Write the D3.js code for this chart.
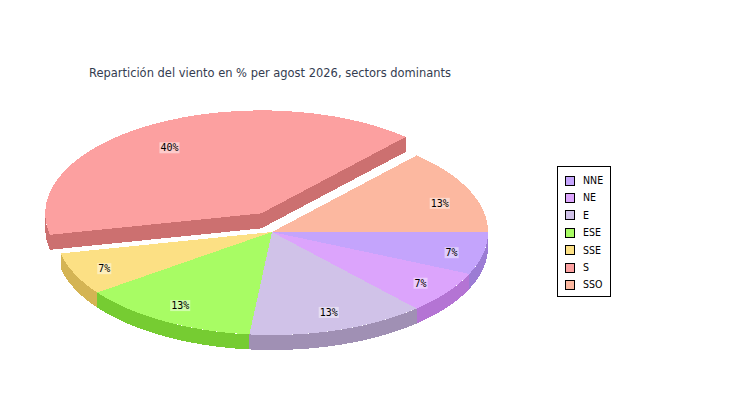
<!DOCTYPE html>
<html>
<head>
<meta charset="utf-8">
<script src="https://cdn.jsdelivr.net/npm/d3@7"></script>
<style>
  html, body { margin: 0; padding: 0; background: #fff; }
  svg { display: block; }
</style>
</head>
<body>
<svg id="chart" width="750" height="400"></svg>
<script>
// ---- data ----
const categories = ["NNE", "NE", "E", "ESE", "SSE", "S", "SSO"];
const values = [1, 1, 2, 2, 1, 6, 2];
const topColors = ["#c4a4fc", "#dca4fc", "#d0c2e8", "#a8fc64", "#fce084", "#fca0a0", "#fcb8a0"];
const sideColors = ["#9c7cd4", "#b474d4", "#a090b4", "#76cc32", "#d4b454", "#cc7070", "#d4907c"];
const explodedCategory = "S";
const title = "Repartición del viento en % per agost 2026, sectors dominants";

// ---- layout ----
const cx = 272, cy = 232, rx = 216, ry = 103, h = 15, explodeR = 21.5;
const svg = d3.select("#chart");

svg.append("text")
  .attr("x", 270).attr("y", 77)
  .attr("text-anchor", "middle")
  .attr("font-family", "DejaVu Sans Condensed, DejaVu Sans, sans-serif")
  .attr("font-size", 12.5)
  .attr("fill", "#343c50")
  .attr("textLength", 362)
  .attr("lengthAdjust", "spacingAndGlyphs")
  .text(title);

const total = d3.sum(values);
const pie = d3.pie().sort(null).startAngle(Math.PI / 2).endAngle(Math.PI / 2 + 2 * Math.PI);
const arcs = pie(values).map((a, i) => {
  const p0 = a.startAngle - Math.PI / 2, p1 = a.endAngle - Math.PI / 2;
  const mid = (p0 + p1) / 2;
  const ex = categories[i] === explodedCategory;
  return {
    a, i, p0, p1, mid, ex,
    dx: ex ? explodeR * Math.cos(mid) : 0,
    dy: ex ? explodeR * Math.sin(mid) : 0
  };
});

const arcGen = d3.arc().innerRadius(0).outerRadius(rx);
const ex = (t) => rx * Math.cos(t);
const ey = (t) => ry * Math.sin(t);

function sidePath(s) {
  const t0 = Math.max(s.p0, 0), t1 = Math.min(s.p1, Math.PI);
  if (t1 <= t0) return null;
  const ts = d3.range(0, 61).map(k => t0 + (t1 - t0) * k / 60);
  const top = ts.map(t => [cx + s.dx + ex(t), cy + s.dy + ey(t)]);
  const bot = ts.slice().reverse().map(t => [cx + s.dx + ex(t), cy + s.dy + ey(t) + h]);
  return d3.line()(top.concat(bot)) + "Z";
}
function radialFace(s, t) {
  const vx = cx + s.dx, vy = cy + s.dy;
  const ox = vx + ex(t), oy = vy + ey(t);
  return d3.line()([[vx, vy], [ox, oy], [ox, oy + h], [vx, vy + h]]) + "Z";
}

const g = svg.append("g").attr("shape-rendering", "crispEdges");

function drawSolid(list) {
  list.forEach(s => {
    if (s.ex) {
      g.append("path").attr("d", radialFace(s, s.p0)).attr("fill", sideColors[s.i]);
      g.append("path").attr("d", radialFace(s, s.p1)).attr("fill", sideColors[s.i]);
    }
    const sp = sidePath(s);
    if (sp) g.append("path").attr("d", sp).attr("fill", sideColors[s.i]);
  });
  list.forEach(s => {
    g.append("path")
      .attr("d", arcGen(s.a))
      .attr("transform", `translate(${cx + s.dx},${cy + s.dy}) scale(1,${ry / rx})`)
      .attr("fill", topColors[s.i]);
  });
}
drawSolid(arcs.filter(s => s.ex));
drawSolid(arcs.filter(s => !s.ex));

// ---- labels ----
const lg = svg.append("g");
arcs.forEach(s => {
  const x = cx + s.dx + rx * 0.85 * Math.cos(s.mid);
  const y = cy + s.dy + ry * 0.78 * Math.sin(s.mid) + 4;
  const txt = d3.format(".0f")(values[s.i] / total * 100) + "%";
  const bg = lg.append("rect").attr("fill", "rgba(255,255,255,0.45)");
  const t = lg.append("text")
    .attr("x", x).attr("y", y)
    .attr("text-anchor", "middle")
    .attr("dominant-baseline", "central")
    .attr("font-family", "DejaVu Sans Mono, monospace")
    .attr("font-size", 10)
    .attr("fill", "#000")
    .text(txt);
  const b = t.node().getBBox();
  bg.attr("x", b.x - 1).attr("y", b.y).attr("width", b.width + 2).attr("height", b.height);
});

// ---- legend ----
const leg = svg.append("g");
leg.append("rect")
  .attr("x", 557.5).attr("y", 166.5).attr("width", 53).attr("height", 130)
  .attr("fill", "#fff").attr("stroke", "#000").attr("stroke-width", 1);
const rowY = d3.scaleLinear().domain([0, 1]).range([180, 197.4]);
categories.forEach((c, i) => {
  const y = rowY(i);
  leg.append("rect")
    .attr("x", 565.5).attr("y", Math.round(y - 4.5) + 0.5).attr("width", 9).attr("height", 9)
    .attr("fill", topColors[i]).attr("stroke", "#000").attr("stroke-width", 1);
  leg.append("text")
    .attr("x", 583).attr("y", y + 4)
    .attr("font-family", "DejaVu Sans Condensed, DejaVu Sans, sans-serif")
    .attr("font-size", 10.5)
    .attr("fill", "#000")
    .text(c);
});
</script>
</body>
</html>
